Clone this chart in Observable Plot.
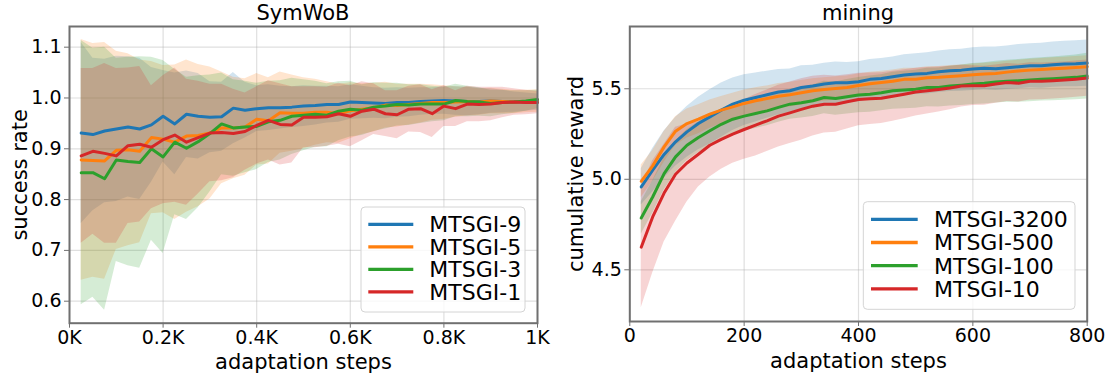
<!DOCTYPE html>
<html><head><meta charset="utf-8">
<script src="https://cdn.jsdelivr.net/npm/d3@7"></script>
<script src="https://cdn.jsdelivr.net/npm/@observablehq/plot@0.6"></script>
<style>
body{margin:0;background:#fff;font-family:"DejaVu Sans",sans-serif;}
#wrap{position:relative;width:1109px;height:377px;overflow:hidden;background:#fff;}
.panel{position:absolute;top:0;}
#overlay{position:absolute;left:0;top:0;pointer-events:none;}
</style></head>
<body><div id="wrap"></div>
<script>
// ---------- data ----------
const colors = ["#1f77b4", "#ff7f0e", "#2ca02c", "#d62728"];

// SymWoB panel
const symTitle = "SymWoB";
const symNames = ["MTSGI-9", "MTSGI-5", "MTSGI-3", "MTSGI-1"];
const symSteps = [25,50,75,100,125,150,175,200,225,250,275,300,325,350,375,400,425,450,475,500,525,550,575,600,625,650,675,700,725,750,775,800,825,850,875,900,925,950,975,1000];
const symMean9 = [.931,.928,.935,.939,.943,.939,.947,.964,.949,.968,.964,.962,.963,.980,.976,.979,.981,.981,.982,.984,.985,.987,.987,.992,.991,.990,.989,.991,.991,.993,.994,.995,.994,.993,.993,.994,.993,.992,.992,.992];
const symMean5 = [.878,.877,.876,.897,.898,.895,.922,.919,.913,.925,.926,.931,.941,.941,.943,.958,.955,.971,.970,.970,.972,.972,.969,.975,.978,.981,.986,.985,.987,.989,.991,.991,.992,.993,.992,.994,.993,.992,.993,.994];
const symMean3 = [.853,.853,.841,.878,.875,.873,.900,.884,.913,.901,.914,.930,.949,.941,.943,.944,.953,.956,.964,.966,.968,.966,.974,.978,.976,.982,.984,.987,.986,.988,.988,.988,.995,.993,.992,.989,.991,.992,.994,.997];
const symMean1 = [.886,.895,.891,.886,.906,.909,.903,.918,.927,.913,.922,.931,.932,.930,.934,.946,.956,.948,.947,.962,.962,.963,.969,.964,.974,.978,.969,.967,.978,.979,.969,.984,.979,.988,.987,.988,.991,.992,.991,.991];
const symSd9 = [.178,.15,.141,.143,.138,.139,.113,.09,.1,.085,.084,.07,.068,.07,.055,.045,.045,.042,.04,.04,.038,.036,.035,.034,.032,.03,.03,.029,.028,.027,.026,.027,.028,.028,.026,.024,.022,.02,.018,.016];
const symSd5 = [.237,.23,.233,.195,.189,.18,.15,.145,.152,.15,.14,.13,.11,.1,.095,.09,.085,.08,.075,.07,.065,.06,.058,.055,.05,.048,.045,.042,.04,.038,.035,.033,.03,.028,.026,.025,.024,.023,.022,.022];
const symSd3 = [.26,.245,.259,.2,.205,.208,.18,.19,.143,.14,.13,.115,.1,.095,.09,.085,.08,.078,.075,.07,.065,.062,.058,.055,.05,.048,.045,.042,.04,.038,.035,.033,.032,.03,.028,.026,.024,.022,.02,.018];
const symSd1 = [.172,.163,.177,.172,.153,.153,.121,.126,.132,.124,.111,.096,.095,.087,.076,.076,.078,.08,.075,.06,.06,.058,.06,.06,.058,.05,.045,.047,.045,.047,.047,.04,.035,.035,.034,.033,.03,.026,.024,.022];
const symXTicks = [0, 200, 400, 600, 800, 1000];
const symXTickLabels = ["0K", "0.2K", "0.4K", "0.6K", "0.8K", "1K"];
const symYTicks = [0.6, 0.7, 0.8, 0.9, 1.0, 1.1];
const symYLabel = "success rate";

// mining panel
const minTitle = "mining";
const minNames = ["MTSGI-3200", "MTSGI-500", "MTSGI-100", "MTSGI-10"];
const minSteps = [20,40,60,80,100,120,140,160,180,200,220,240,260,280,300,320,340,360,380,400,420,440,460,480,500,520,540,560,580,600,620,640,660,680,700,720,740,760,780,800];
const minMean3200 = [4.958,5.050,5.137,5.207,5.262,5.308,5.345,5.382,5.415,5.437,5.452,5.467,5.482,5.489,5.507,5.515,5.526,5.533,5.533,5.539,5.552,5.557,5.566,5.576,5.581,5.585,5.594,5.600,5.603,5.609,5.613,5.611,5.616,5.622,5.627,5.627,5.633,5.637,5.638,5.642];
const minMean500 = [4.989,5.074,5.179,5.266,5.308,5.332,5.360,5.382,5.400,5.419,5.434,5.446,5.459,5.467,5.478,5.489,5.496,5.502,5.507,5.518,5.528,5.535,5.542,5.552,5.553,5.561,5.563,5.568,5.572,5.577,5.581,5.585,5.592,5.598,5.603,5.607,5.611,5.614,5.618,5.622];
const minMean100 = [4.786,4.902,5.031,5.124,5.188,5.231,5.268,5.304,5.332,5.349,5.363,5.378,5.397,5.415,5.423,5.434,5.452,5.446,5.456,5.465,5.470,5.478,5.489,5.493,5.498,5.507,5.507,5.515,5.520,5.526,5.530,5.537,5.541,5.544,5.548,5.552,5.555,5.559,5.563,5.570];
const minMean10 = [4.625,4.792,4.924,5.028,5.090,5.138,5.188,5.220,5.249,5.275,5.299,5.323,5.349,5.367,5.386,5.404,5.415,5.415,5.428,5.441,5.445,5.448,5.459,5.470,5.482,5.489,5.496,5.504,5.515,5.517,5.517,5.526,5.535,5.531,5.541,5.541,5.544,5.548,5.553,5.559];
const minSd3200 = [.1,.12,.13,.135,.14,.145,.15,.15,.145,.14,.135,.13,.125,.12,.12,.115,.115,.115,.112,.11,.11,.11,.11,.112,.112,.114,.115,.115,.116,.118,.118,.12,.12,.122,.122,.124,.125,.126,.127,.128];
const minSd500 = [.09,.085,.085,.08,.08,.08,.078,.076,.075,.074,.072,.07,.07,.068,.068,.066,.065,.065,.064,.064,.063,.062,.062,.062,.061,.061,.06,.06,.06,.06,.06,.06,.06,.06,.06,.06,.06,.06,.06,.06];
const minSd100 = [.09,.09,.09,.088,.086,.085,.085,.084,.083,.082,.082,.082,.082,.083,.085,.087,.09,.092,.095,.097,.1,.1,.102,.104,.105,.106,.108,.11,.112,.113,.114,.115,.116,.118,.119,.12,.121,.122,.124,.126];
const minSd10 = [.335,.31,.27,.26,.215,.18,.175,.165,.16,.165,.17,.17,.17,.17,.17,.165,.16,.155,.15,.145,.142,.14,.138,.135,.132,.128,.124,.12,.115,.11,.108,.106,.105,.104,.103,.102,.101,.1,.1,.1];
const minXTicks = [0, 200, 400, 600, 800];
const minYTicks = [4.5, 5.0, 5.5];
const minYLabel = "cumulative reward";

const xLabel = "adaptation steps";

// ---------- build ----------
function table(steps, names, means, sds) {
  return names.flatMap((name, k) => steps.map((s, i) => ({
    series: name, step: s, mean: means[k][i], lo: means[k][i] - sds[k][i], hi: means[k][i] + sds[k][i]
  })));
}

function panel(o) {
  const data = table(o.steps, o.names, o.means, o.sds);
  const grid = {stroke: "#b0b0b0", strokeOpacity: 0.4, strokeWidth: 1.2};
  return Plot.plot({
    width: o.width, height: 377,
    marginLeft: o.ml, marginRight: o.mr, marginTop: 26, marginBottom: o.mb,
    style: {fontFamily: "DejaVu Sans", background: "transparent", overflow: "visible", color: "#000"},
    x: {domain: o.xDomain},
    y: {domain: o.yDomain},
    color: {domain: o.names, range: colors},
    marks: [
      Plot.gridX(o.xTicks, grid),
      Plot.gridY(o.yTicks, grid),
      Plot.areaY(data, {x: "step", y1: "lo", y2: "hi", z: "series", fill: "series", fillOpacity: 0.2}),
      Plot.lineY(data, {x: "step", y: "mean", z: "series", stroke: "series", strokeWidth: 3}),
      Plot.axisX({ticks: o.xTicks, tickFormat: o.xFormat, tickSize: 5, tickPadding: 2, stroke: "#707070", fill: "#000", fontSize: 19, label: null}),
      Plot.axisY({ticks: o.yTicks, tickFormat: d3.format(".1f"), tickSize: 5, tickPadding: 3, stroke: "#707070", fill: "#000", fontSize: 19, label: null}),
      Plot.axisX({ticks: [], tickSize: 0, fill: "#000", fontSize: 21, label: xLabel, labelAnchor: "center", labelArrow: "none", labelOffset: 46}),
      Plot.axisY({ticks: [], tickSize: 0, fill: "#000", fontSize: 21, label: o.yLabel, labelAnchor: "center", labelArrow: "none", labelOffset: o.ylo}),
      Plot.frame({stroke: "#707070", strokeWidth: 2})
    ]
  });
}

const wrap = document.getElementById("wrap");

const left = panel({
  steps: symSteps, names: symNames, means: [symMean9, symMean5, symMean3, symMean1], sds: [symSd9, symSd5, symSd3, symSd1],
  width: 550, ml: 69, mr: 13, mb: 54.3, xDomain: [0, 1000], yDomain: [0.5567, 1.1407],
  xTicks: symXTicks, xFormat: (d, i) => symXTickLabels[symXTicks.indexOf(d)], yTicks: symYTicks, yLabel: symYLabel, ylo: 57
});
left.classList.add("panel"); left.style.left = "0px";
wrap.appendChild(left);

const right = panel({
  steps: minSteps, names: minNames, means: [minMean3200, minMean500, minMean100, minMean10], sds: [minSd3200, minSd500, minSd100, minSd10],
  width: 559, ml: 79.3, mr: 22.3, mb: 56, xDomain: [0, 800], yDomain: [4.2144, 5.844],
  xTicks: minXTicks, xFormat: d3.format("d"), yTicks: minYTicks, yLabel: minYLabel, ylo: 62
});
right.classList.add("panel"); right.style.left = "550px";
wrap.appendChild(right);

// ---------- overlay: titles and legends ----------
const svg = d3.select(wrap).append("svg").attr("id", "overlay").attr("width", 1109).attr("height", 377)
  .style("font-family", "DejaVu Sans");

svg.append("text").attr("x", 303).attr("y", 20).attr("text-anchor", "middle").attr("font-size", 21).text(symTitle);
svg.append("text").attr("x", 858).attr("y", 20).attr("text-anchor", "middle").attr("font-size", 21).text(minTitle);

function legend(names, box, rows) {
  const g = svg.append("g").attr("transform", `translate(${box.x},${box.y})`);
  g.append("rect").attr("width", box.w).attr("height", box.h).attr("rx", 4)
    .attr("fill", "#fff").attr("fill-opacity", 0.8).attr("stroke", "#d4d4d4").attr("stroke-width", 1);
  names.forEach((n, i) => {
    const cy = rows.y0 + i * rows.dy;
    g.append("line").attr("x1", rows.lx0).attr("x2", rows.lx1).attr("y1", cy).attr("y2", cy)
      .attr("stroke", colors[i]).attr("stroke-width", 3.3);
    g.append("text").attr("x", rows.tx).attr("y", cy + 8).attr("font-size", 22).attr("fill", "#000").text(n);
  });
}
legend(symNames, {x: 361, y: 207, w: 164, h: 105}, {y0: 17.3, dy: 22.5, lx0: 7.3, lx1: 52.3, tx: 68.3});
legend(minNames, {x: 863.3, y: 201.7, w: 211.7, h: 107.6}, {y0: 17.6, dy: 23.2, lx0: 7.7, lx1: 54.4, tx: 70.7});
</script></body></html>
